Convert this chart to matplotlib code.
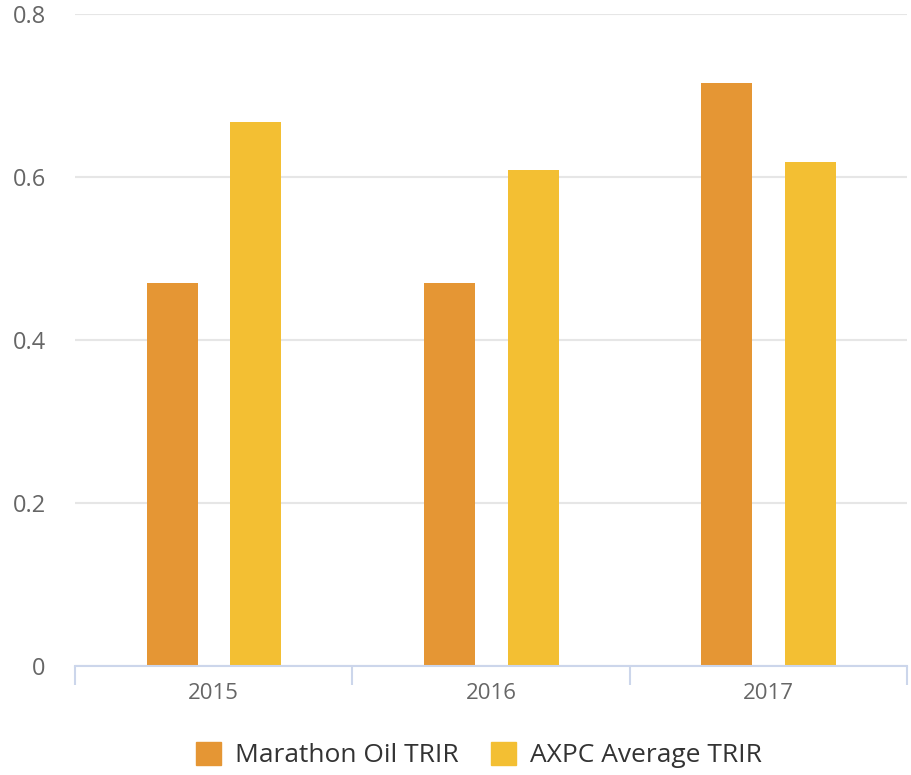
import numpy as np
import matplotlib.pyplot as plt
from matplotlib.patches import Patch

years = ['2015', '2016', '2017']
marathon = [0.47, 0.47, 0.715]
axpc = [0.667, 0.608, 0.618]

c_marathon = '#e59634'
c_axpc = '#f3bf33'

plt.rcParams['font.family'] = ['Open Sans', 'DejaVu Sans']

fig = plt.figure(figsize=(9.11, 7.75), dpi=100)
ax = fig.add_axes([75/911, 1 - 666/775, 832/911, 652/775])

x = np.arange(len(years))
w = 0.184
ax.bar(x - 0.15, marathon, w, color=c_marathon, zorder=3)
ax.bar(x + 0.152, axpc, w, color=c_axpc, zorder=3)

ax.set_xlim(-0.5, 2.5)
ax.set_ylim(0, 0.8)
ax.set_yticks([0, 0.2, 0.4, 0.6, 0.8])
ax.set_yticklabels(['0', '0.2', '0.4', '0.6', '0.8'])
ax.yaxis.grid(True, color='#e6e6e6', linewidth=1.5, zorder=0)
ax.tick_params(axis='y', length=0, pad=21, labelsize=17, labelcolor='#666666')

ax.set_xticks(x)
ax.set_xticklabels(years)
ax.set_xticks([-0.5, 0.5, 1.5, 2.5], minor=True)
ax.tick_params(axis='x', which='major', length=0, pad=12, labelsize=16, labelcolor='#666666')
ax.tick_params(axis='x', which='minor', length=14, width=1.5, color='#ccd6eb')

for s in ['top', 'right', 'left']:
    ax.spines[s].set_visible(False)
ax.spines['bottom'].set_color('#ccd6eb')
ax.spines['bottom'].set_linewidth(1.5)
ax.spines['bottom'].set_zorder(4)

handles = [Patch(color=c_marathon, label='Marathon Oil TRIR'),
           Patch(color=c_axpc, label='AXPC Average TRIR')]
fig.legend(handles=handles, loc='center', bbox_to_anchor=(479/911, 1 - 755/775),
           ncol=2, frameon=False, fontsize=19, handlelength=0.95, handleheight=0.95,
           handletextpad=0.55, columnspacing=1.2, labelcolor='#333333')

fig.savefig('out.png', dpi=100)
